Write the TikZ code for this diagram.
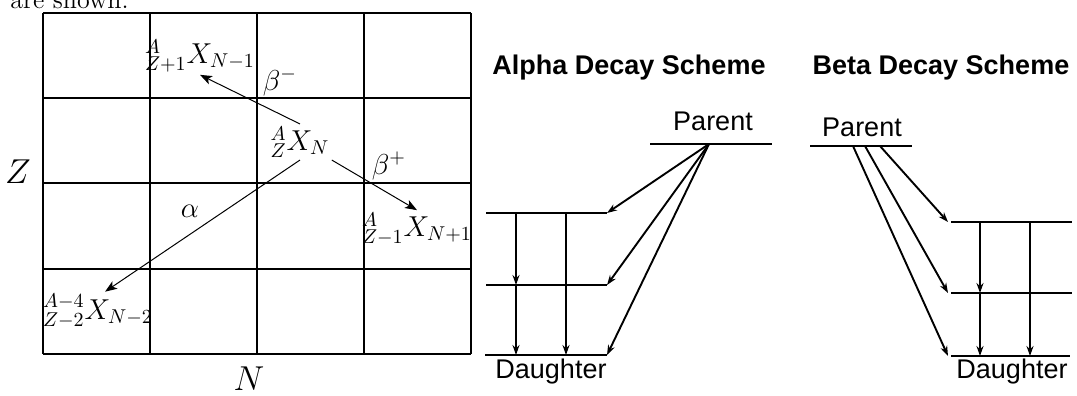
\documentclass[tikz,border=0pt]{standalone}
\usepackage{fontspec}
\newfontfamily\schemefont{Liberation Sans}
\usetikzlibrary{arrows.meta}
\tikzset{
  gridline/.style={line width=0.9pt},
  nuclide/.style={font=\fontsize{14.5}{17}\selectfont,inner sep=1pt},
  axislabel/.style={font=\fontsize{16.5}{19}\selectfont,inner sep=0pt},
  decayarrow/.style={line width=0.5pt,-{Stealth[length=6pt,width=4.5pt,inset=1.5pt]}},
  level/.style={line width=1pt},
  transition/.style={line width=0.95pt,-{Stealth[length=5pt,width=3.5pt]}},
  schemetitle/.style={font=\schemefont\bfseries\fontsize{13.5}{16}\selectfont,anchor=base,inner sep=0pt},
  levellabel/.style={font=\schemefont\fontsize{13.5}{16}\selectfont,anchor=base,inner sep=0pt}
}
\begin{document}
\begin{tikzpicture}[x=0.5pt,y=-0.5pt]
  \useasboundingbox (0,0) rectangle (1077,396);
  \clip (0,0) rectangle (1077,396);

  \node[anchor=base west,inner sep=0pt,font=\fontsize{13}{15}\selectfont] (caption) at (10,9) {are shown.};

  % chart of nuclides
  \foreach \x in {43,150,257,364,471}
    \draw[gridline] (\x,13) -- (\x,354);
  \foreach \y in {13,98,183,269,354}
    \draw[gridline] (43,\y) -- (471,\y);

  \node[axislabel] (zlabel) at (18,172) {$Z$};
  \node[axislabel] (nlabel) at (249,379) {$N$};

  \node[nuclide] (parent) at (300,142) {${}^{A}_{Z}X_{N}$};
  \node[nuclide] (betaminus) at (200,56) {${}^{A}_{Z+1}X_{N-1}$};
  \node[nuclide] (betaplus) at (417,229) {${}^{A}_{Z-1}X_{N+1}$};
  \node[nuclide] (alphadaughter) at (98,311) {${}^{A-4}_{Z-2}X_{N-2}$};

  \draw[decayarrow] (parent.north) -- (betaminus.south);
  \draw[decayarrow] (parent.south) -- (alphadaughter.70);
  \draw[decayarrow] (parent.south east) -- (betaplus.north);

  \node[nuclide] (bmlabel) at (280,82) {$\beta^{-}$};
  \node[nuclide] (bplabel) at (389,166) {$\beta^{+}$};
  \node[nuclide] (alabel) at (190,211) {$\alpha$};

  % alpha decay scheme
  \node[schemetitle] (alphatitle) at (629,75) {Alpha Decay Scheme};
  \node[levellabel] (aparentlabel) at (713,130) {Parent};
  \node[levellabel] (adaughterlabel) at (551,378) {Daughter};
  \draw[level] (650,144) -- (772,144);
  \draw[level] (486,213) -- (607,213);
  \draw[level] (486,285) -- (607,285);
  \draw[level] (485,355) -- (607,355);
  \foreach \name/\x/\y in {ap/709/144, a1/607/213, a2/607/285, a3/607/355,
      au1/516/213, ad1/516/285, au2/516/285, ad2/516/355, au3/566/213, ad3/566/355}
    \coordinate (\name) at (\x,\y);
  \foreach \lvl in {a1,a2,a3}
    \draw[transition] (ap) -- (\lvl);
  \foreach \i in {1,2,3}
    \draw[transition] (au\i) -- (ad\i);

  % beta decay scheme
  \node[schemetitle] (betatitle) at (941,75) {Beta Decay Scheme};
  \node[levellabel] (bparentlabel) at (862,136) {Parent};
  \node[levellabel] (bdaughterlabel) at (1012,378) {Daughter};
  \draw[level] (810,146) -- (912,146);
  \draw[level] (951,222) -- (1072,222);
  \draw[level] (951,293) -- (1072,293);
  \draw[level] (951,356) -- (1070,356);
  \foreach \name/\x/\y in {bp1/880/146, bp2/865/146, bp3/853/146,
      b1/948/222, b2/948/293, b3/948/356,
      bu1/980/222, bd1/980/293, bu2/980/293, bd2/980/356, bu3/1030/222, bd3/1030/356}
    \coordinate (\name) at (\x,\y);
  \foreach \i in {1,2,3}
    \draw[transition] (bp\i) -- (b\i);
  \foreach \i in {1,2,3}
    \draw[transition] (bu\i) -- (bd\i);
\end{tikzpicture}
\end{document}
